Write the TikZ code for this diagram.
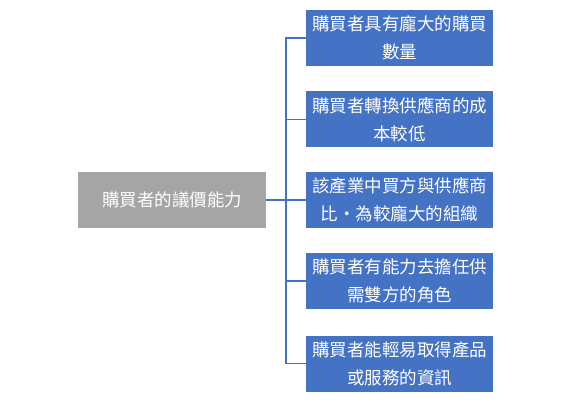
\documentclass[tikz,border=0pt]{standalone}
\usepackage{fontspec}
\newfontfamily\cjk{Noto Sans CJK TC}
\definecolor{boxblue}{HTML}{4472C4}
\definecolor{boxgrey}{HTML}{A5A5A5}
\begin{document}
\begin{tikzpicture}[x=1pt, y=-1pt,
   leaf/.style={rectangle, fill=boxblue, text=white, minimum width=187pt, minimum height=56pt,
      inner sep=0pt, align=center, font=\cjk\fontsize{17.5}{28}\selectfont},
   root/.style={leaf, fill=boxgrey, minimum width=188pt}]

   \useasboundingbox (0,0) rectangle (570,406);

   \node [root] (vR) at (172,200) {購買者的議價能力};

   \foreach [count=\i] \y/\t in {38/購買者具有龐大的購買\\數量, 119.5/購買者轉換供應商的成\\本較低,
      200/該產業中買方與供應商\\比・為較龐大的組織, 281/購買者有能力去擔任供\\需雙方的角色,
      363.5/購買者能輕易取得產品\\或服務的資訊}
     \node [leaf]
        (v\i) at (399.5,\y) {\t};

    \foreach \i in {1,...,5}
        \draw [boxblue, line width=1.5pt] (vR.east) -- ++(19.7,0) |- (v\i.west);

\end{tikzpicture}
\end{document}
